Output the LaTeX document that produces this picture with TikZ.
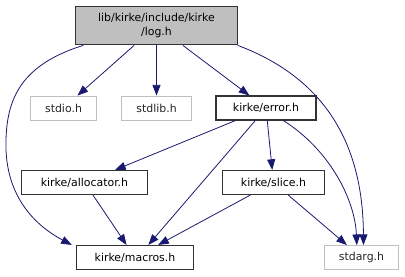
\documentclass[tikz,border=0pt]{standalone}
\usepackage{fontspec}
\setmainfont{DejaVu Sans}
\usepackage{xcolor}
\usetikzlibrary{arrows.meta}

\definecolor{edgeblue}{HTML}{191970}
\definecolor{lightgrey}{HTML}{BFBFBF}

\begin{document}
\begin{tikzpicture}[x=0.75pt, y=-0.75pt,
    file/.style={draw=black!80, thick, inner sep=0pt, font=\fontsize{8.2}{10}\selectfont},
    sysfile/.style={file, draw=lightgrey, semithick, text=black!85},
    inc/.style={-{Triangle[length=8pt, width=6pt, fill=edgeblue]}, draw=edgeblue, semithick}]
    \useasboundingbox (0,0) rectangle (405,276);

    \node[file, fill=lightgrey, minimum width=121pt, minimum height=29pt, align=center]
        (log) at (156.5, 25.5) {lib/kirke/include/kirke\\/log.h};
    \node[sysfile, minimum width=50pt, minimum height=18pt] (stdio)  at (63.5, 108)   {stdio.h};
    \node[sysfile, minimum width=53pt, minimum height=18pt] (stdlib) at (156.5, 108)  {stdlib.h};
    \node[file, minimum width=75pt, minimum height=18pt]    (error)  at (266, 108)    {kirke/error.h};
    \node[file, minimum width=95pt, minimum height=18pt]    (alloc)  at (84.5, 182.5) {kirke/allocator.h};
    \node[file, minimum width=76pt, minimum height=18pt]    (slice)  at (273.5, 182.5) {kirke/slice.h};
    \node[file, minimum width=88pt, minimum height=18pt]    (macros) at (135, 257.5)  {kirke/macros.h};
    \node[sysfile, minimum width=56pt, minimum height=18pt] (stdarg) at (361.5, 257.5) {stdarg.h};

    % includes of log.h
    \draw[inc] (log) -- (stdio);
    \draw[inc] (log) -- (stdlib);
    \draw[inc] (log) -- (error);
    \draw[inc] ([xshift=6pt]log.south west) .. controls (20,65) and (7,100) .. (6,140)
        .. controls (4,200) and (40,228) .. ([xshift=-3pt]macros.north west);
    \draw[inc] (log.south east) .. controls (330,80) and (363,150) .. ([xshift=1.5pt]stdarg.north);

    % includes of error.h
    \draw[inc] (error) -- (alloc);
    \draw[inc] ([xshift=-8pt]error.south) -- ([xshift=10pt]macros.north);
    \draw[inc] (error) -- (slice);
    \draw[inc] ([xshift=13pt]error.south) .. controls (330,150) and (355,200) .. ([xshift=-3.5pt]stdarg.north);

    % includes of allocator.h and slice.h
    \draw[inc] (alloc) -- (macros);
    \draw[inc] (slice) -- (macros);
    \draw[inc] (slice) -- (stdarg);
\end{tikzpicture}
\end{document}
